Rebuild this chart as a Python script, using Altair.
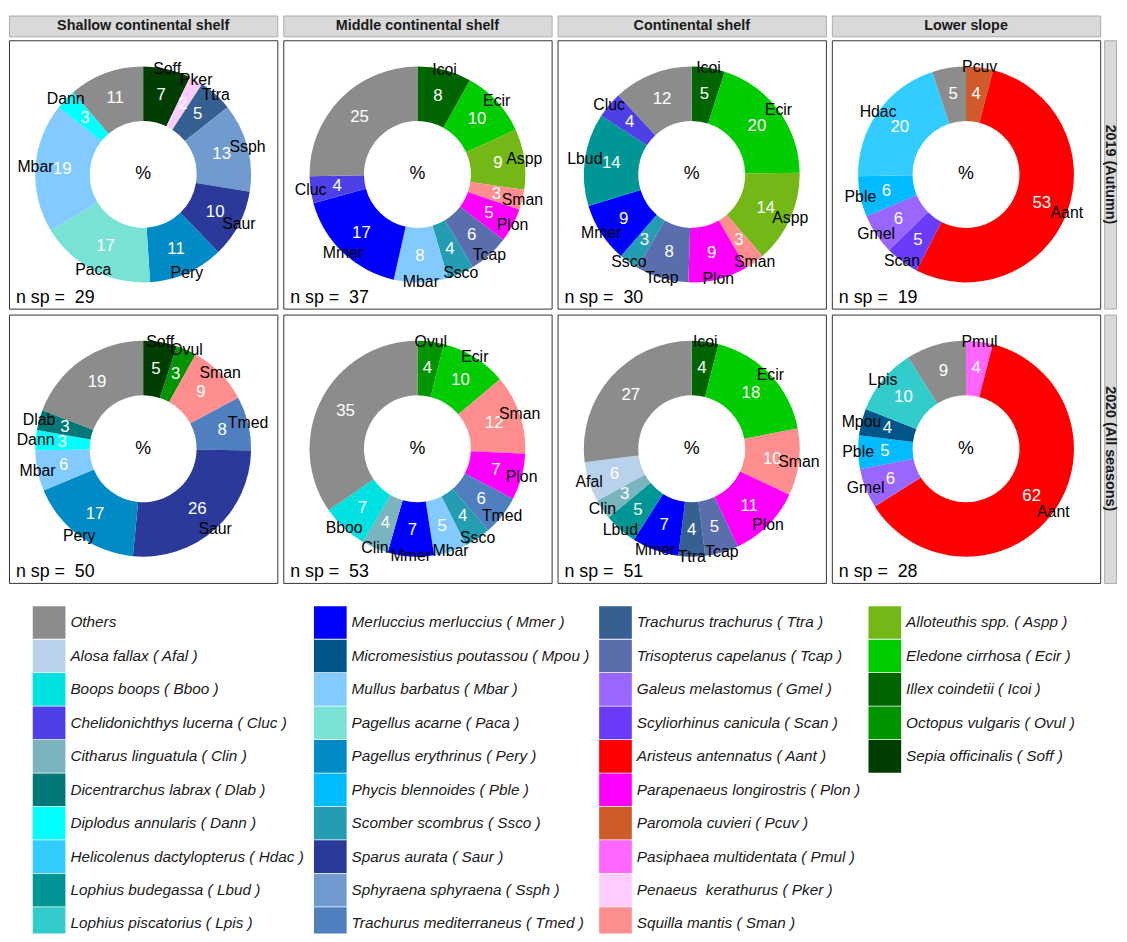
import altair as alt
import pandas as pd

FONT = "Liberation Sans"

zones = ["Shallow continental shelf", "Middle continental shelf", "Continental shelf", "Lower slope"]
periods = ["2019 (Autumn)", "2020 (All seasons)"]

legend_codes = ["Others", "Afal", "Bboo", "Cluc", "Clin", "Dlab", "Dann", "Hdac", "Lbud", "Lpis",
                "Mmer", "Mpou", "Mbar", "Paca", "Pery", "Pble", "Ssco", "Saur", "Ssph", "Tmed",
                "Ttra", "Tcap", "Gmel", "Scan", "Aant", "Plon", "Pcuv", "Pmul", "Pker", "Sman",
                "Aspp", "Ecir", "Icoi", "Ovul", "Soff"]
legend_names = ["Others", "Alosa fallax", "Boops boops", "Chelidonichthys lucerna", "Citharus linguatula",
                "Dicentrarchus labrax", "Diplodus annularis", "Helicolenus dactylopterus", "Lophius budegassa",
                "Lophius piscatorius",
                "Merluccius merluccius", "Micromesistius poutassou", "Mullus barbatus", "Pagellus acarne",
                "Pagellus erythrinus", "Phycis blennoides", "Scomber scombrus", "Sparus aurata",
                "Sphyraena sphyraena", "Trachurus mediterraneus",
                "Trachurus trachurus", "Trisopterus capelanus", "Galeus melastomus", "Scyliorhinus canicula",
                "Aristeus antennatus", "Parapenaeus longirostris", "Paromola cuvieri", "Pasiphaea multidentata",
                "Penaeus\u00a0 kerathurus", "Squilla mantis",
                "Alloteuthis spp.", "Eledone cirrhosa", "Illex coindetii", "Octopus vulgaris", "Sepia officinalis"]
legend_colors = ["#8C8C8C", "#B9D1EA", "#00E2E2", "#4C40E6", "#7AB4BF", "#007878", "#00FFFF", "#33CCFF",
                 "#009696", "#33CCCC",
                 "#0000FF", "#00558A", "#82CAFF", "#78E2D4", "#008BC6", "#00BBFF", "#249CB2", "#2B3A9A",
                 "#709BCF", "#4F7FBE",
                 "#365F92", "#5A6DAD", "#9966FF", "#6A3CFA", "#FF0000", "#FF00FF", "#CF5A2A", "#FF66FF",
                 "#FFCCFF", "#FF8F8F",
                 "#73B816", "#00CC00", "#006400", "#009400", "#003D00"]

# 2019 (Autumn)
codes_2019 = [
    ["Soff", "Pker", "Ttra", "Ssph", "Saur", "Pery", "Paca", "Mbar", "Dann", "Others"],
    ["Icoi", "Ecir", "Aspp", "Sman", "Plon", "Tcap", "Ssco", "Mbar", "Mmer", "Cluc", "Others"],
    ["Icoi", "Ecir", "Aspp", "Sman", "Plon", "Tcap", "Ssco", "Mmer", "Lbud", "Cluc", "Others"],
    ["Pcuv", "Aant", "Scan", "Gmel", "Pble", "Hdac", "Others"],
]
pct_2019 = [
    [7, 2, 5, 13, 10, 11, 17, 19, 3, 11],
    [8, 10, 9, 3, 5, 6, 4, 8, 17, 4, 25],
    [5, 20, 14, 3, 9, 8, 3, 9, 14, 4, 12],
    [4, 53, 5, 6, 6, 20, 5],
]
# 2020 (All seasons)
codes_2020 = [
    ["Soff", "Ovul", "Sman", "Tmed", "Saur", "Pery", "Mbar", "Dann", "Dlab", "Others"],
    ["Ovul", "Ecir", "Sman", "Plon", "Tmed", "Ssco", "Mbar", "Mmer", "Clin", "Bboo", "Others"],
    ["Icoi", "Ecir", "Sman", "Plon", "Tcap", "Ttra", "Mmer", "Lbud", "Clin", "Afal", "Others"],
    ["Pmul", "Aant", "Gmel", "Pble", "Mpou", "Lpis", "Others"],
]
pct_2020 = [
    [5, 3, 9, 8, 26, 17, 6, 3, 3, 19],
    [4, 10, 12, 7, 6, 4, 5, 7, 4, 7, 35],
    [4, 18, 10, 11, 5, 4, 7, 5, 3, 6, 27],
    [4, 62, 6, 5, 4, 10, 9],
]
n_species = [[29, 37, 30, 19], [50, 53, 51, 28]]

PW, PH = 271, 271
color_scale = alt.Scale(domain=legend_codes, range=legend_colors)


def panel(codes, pct, nsp):
    df = pd.DataFrame({"code": codes, "pct": pct})
    df["ord"] = [-legend_codes.index(c) for c in codes]
    df["lab"] = ["" if c == "Others" else c for c in codes]
    base = alt.Chart(df).encode(
        theta=alt.Theta("pct:Q", stack=True),
        order=alt.Order("ord:Q"),
    )
    arcs = base.mark_arc(innerRadius=54, outerRadius=109).encode(
        color=alt.Color("code:N", scale=color_scale, legend=None)
    )
    vals = base.mark_text(radius=82, color="white", fontSize=17, font=FONT,
                          align="center", baseline="middle").encode(text="pct:Q")
    labs = base.mark_text(radius=109, color="black", fontSize=16, font=FONT,
                          align="center", baseline="middle").encode(text="lab:N")
    pc = alt.Chart(pd.DataFrame({"t": ["%"]})).mark_text(
        fontSize=18, font=FONT, color="black", align="center", baseline="middle"
    ).encode(text="t:N")
    ns = alt.Chart(pd.DataFrame({"t": ["n sp = \u00a0" + str(nsp)]})).mark_text(
        fontSize=18, font=FONT, color="black", align="left", baseline="alphabetic"
    ).encode(text="t:N", x=alt.value(7), y=alt.value(265))
    return alt.layer(arcs, vals, labs, pc, ns).properties(
        width=PW, height=PH,
        view=alt.ViewBackground(fill="white", stroke="#333333", strokeWidth=1),
    )


def hstrip(txt):
    return alt.Chart(pd.DataFrame({"t": [txt]})).mark_text(
        fontWeight="bold", fontSize=14.5, font=FONT, color="#1A1A1A", align="center", baseline="middle"
    ).encode(text="t:N").properties(
        width=PW, height=21,
        view=alt.ViewBackground(fill="#D9D9D9", stroke="#ABABAB", strokeWidth=1),
    )


def vstrip(txt):
    return alt.Chart(pd.DataFrame({"t": [txt]})).mark_text(
        fontWeight="bold", fontSize=14.5, font=FONT, color="#1A1A1A", align="center", baseline="middle",
        angle=90
    ).encode(text="t:N").properties(
        width=12, height=PH,
        view=alt.ViewBackground(fill="#D9D9D9", stroke="#ABABAB", strokeWidth=1),
    )


header = alt.hconcat(*[hstrip(z) for z in zones], spacing=4)


def row(codes_list, pct_list, nsp_list, period):
    panels = alt.hconcat(
        *[panel(c, p, n) for c, p, n in zip(codes_list, pct_list, nsp_list)], spacing=4
    ).resolve_scale(theta="independent")
    return alt.hconcat(panels, vstrip(period), spacing=2).resolve_scale(theta="independent")


row1 = row(codes_2019, pct_2019, n_species[0], periods[0])
row2 = row(codes_2020, pct_2020, n_species[1], periods[1])
rows = alt.vconcat(row1, row2, spacing=4).resolve_scale(theta="independent")
top = alt.vconcat(header, rows, spacing=2).resolve_scale(theta="independent")

leg_df = pd.DataFrame({
    "code": legend_codes,
    "label": [n if c == "Others" else f"{n} ( {c} )" for n, c in zip(legend_names, legend_codes)],
    "col": [i // 10 for i in range(len(legend_codes))],
    "row": [i % 10 for i in range(len(legend_codes))],
})
leg_base = alt.Chart(leg_df).encode(
    x=alt.X("col:Q", scale=alt.Scale(domain=[0, 1, 2, 3], range=[24, 308, 596, 868], nice=False, zero=False),
            axis=None),
    y=alt.Y("row:Q", scale=alt.Scale(domain=[0, 9], range=[29, 333], nice=False, zero=False), axis=None),
)
swatches = leg_base.mark_square(size=33 * 33, xOffset=16.5, opacity=1, filled=True, clip=True).encode(
    color=alt.Color("code:N", scale=color_scale, legend=None)
)
leg_text = leg_base.mark_text(align="left", baseline="middle", dx=38, fontStyle="italic",
                              fontSize=15.5, font=FONT, color="#1A1A1A").encode(text="label:N")
legend = alt.layer(swatches, leg_text).properties(width=1096, height=343)

chart = alt.vconcat(top, legend, spacing=10).resolve_scale(theta="independent").properties(
    padding={"left": 0, "top": 2, "right": 0, "bottom": 0}
).configure_view(strokeWidth=0)

chart.save("out.html", embed_options={"renderer": "svg", "actions": False})
